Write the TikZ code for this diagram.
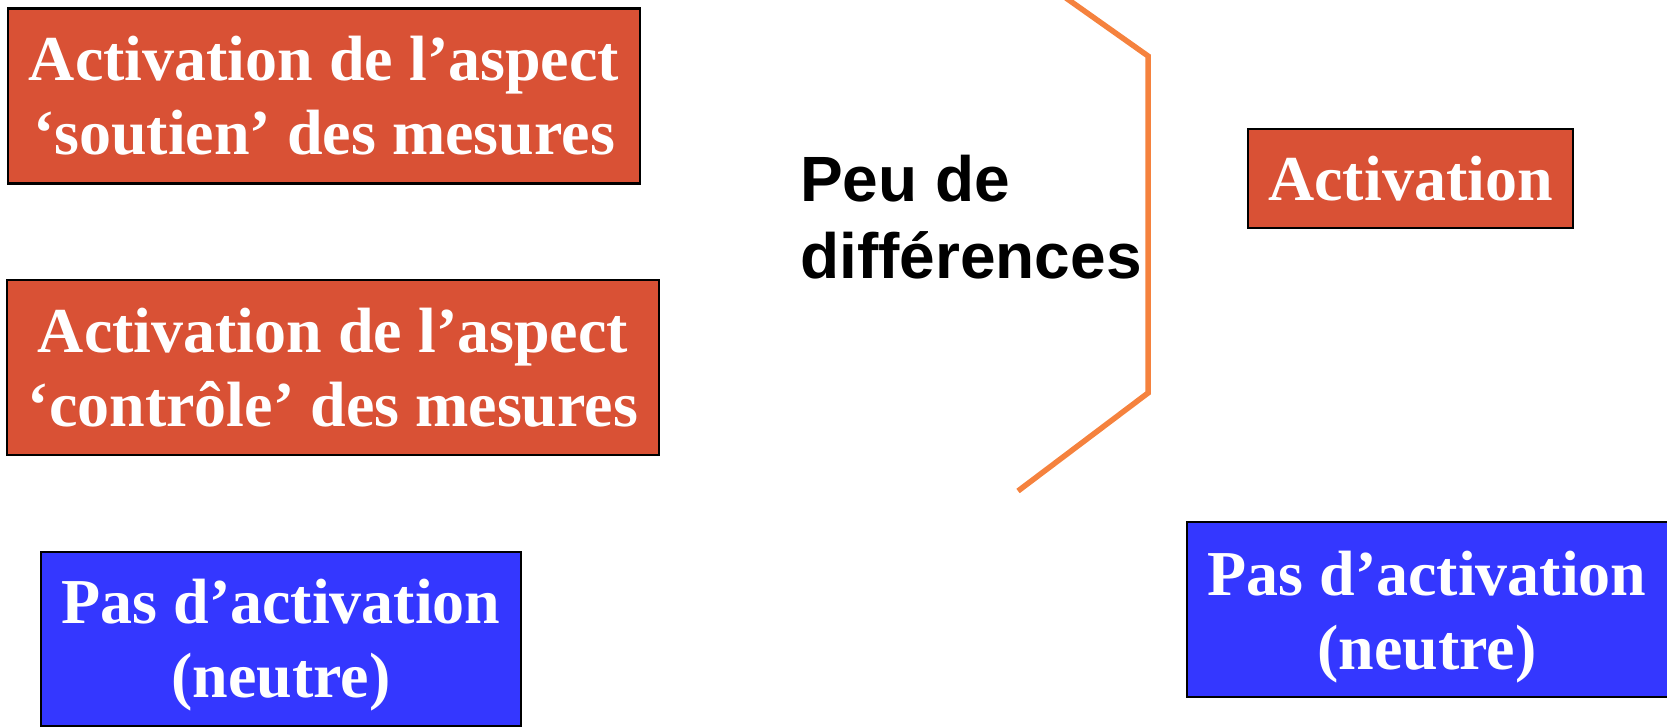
\documentclass[tikz,border=0pt]{standalone}
\usepackage{fontspec}
\setmainfont{Liberation Serif}
\newfontfamily\arialfont{Liberation Sans}
\definecolor{boxred}{RGB}{217,81,53}
\definecolor{boxblue}{RGB}{52,55,255}
\definecolor{lineorange}{RGB}{245,130,62}
\tikzset{
  boxtext/.style={inner sep=0pt, align=center, text=white,
    font=\fontsize{64}{74}\selectfont\bfseries},
  box/.style={draw=black, line width=2.5pt, boxtext},
  redbox/.style={box, fill=boxred},
  bluebox/.style={box, fill=boxblue},
  bracket/.style={draw=lineorange, line width=5.5pt},
}
\begin{document}
\begin{tikzpicture}[x=1pt,y=-1pt]
\useasboundingbox (0,0) rectangle (1667,727);
\node[redbox, minimum width=632pt, minimum height=175pt] (soutien) at (324,96)
  {Activation de l’aspect\\‘soutien’ des mesures};
\node[redbox, minimum width=652pt, minimum height=175pt] (controle) at (333,367.5)
  {Activation de l’aspect\\‘contrôle’ des mesures};
\node[bluebox, minimum width=480pt, minimum height=174pt,
  label={[boxtext, yshift=-6.5pt]center:{Pas d’activation\\(neutre)}}] (neutreL) at (281,639) {};
\node[redbox, minimum width=325pt, minimum height=99pt] (activ) at (1410.5,178.5)
  {Activation};
\node[bluebox, minimum width=492pt, minimum height=175pt,
  label={[boxtext, xshift=-6pt, yshift=-7.5pt]center:{Pas d’activation\\(neutre)}}] (neutreR) at (1433,609.5) {};
\node[anchor=base west, inner sep=0pt, align=left,
  font=\arialfont\fontsize{64}{77}\selectfont\bfseries] (peu) at (800,279)
  {Peu de\\différences};
\coordinate (b0) at (1066,-2);
\coordinate (b1) at (1148,56);
\coordinate (b2) at (1148,393);
\coordinate (b3) at (1018,491);
\draw[bracket] (b0) -- (b1) -- (b2) -- (b3);
\end{tikzpicture}
\end{document}
